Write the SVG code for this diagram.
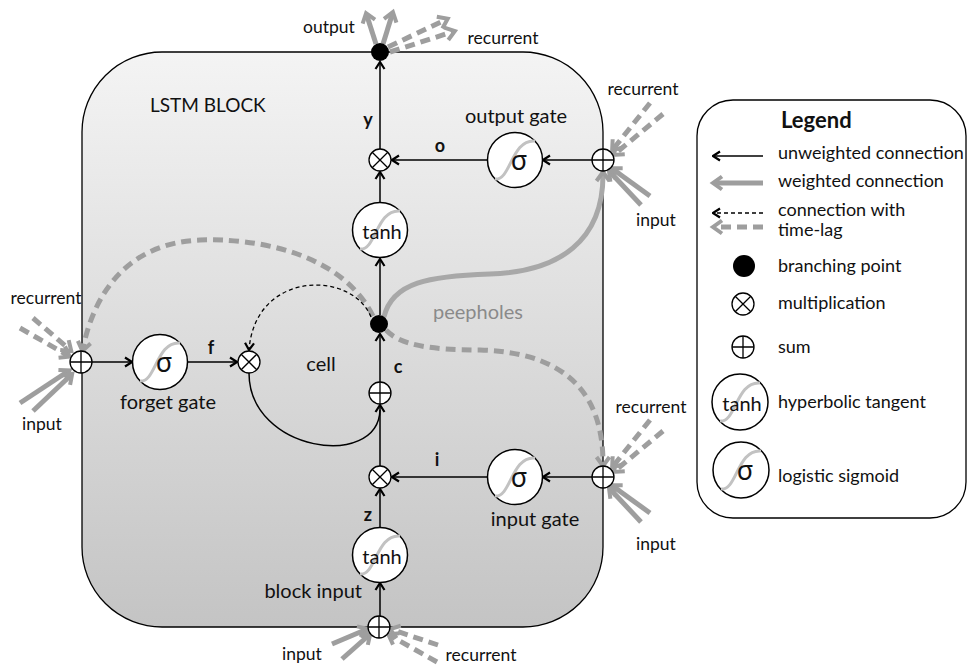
<svg xmlns="http://www.w3.org/2000/svg" xmlns:xlink="http://www.w3.org/1999/xlink" width="970" height="668" viewBox="0 0 970 668">
  <defs>
    <linearGradient id="blockFill" x1="0" y1="0" x2="0" y2="1">
      <stop offset="0" stop-color="#f4f4f4"/>
      <stop offset="1" stop-color="#c4c4c4"/>
    </linearGradient>
    <!-- black open chevron head -->
    <marker id="ah" viewBox="0 0 10 12" refX="9" refY="6" markerWidth="10" markerHeight="12" markerUnits="userSpaceOnUse" orient="auto">
      <path d="M2,1.5 L9,6 L2,10.5" fill="none" stroke="#000" stroke-width="2.2"/>
    </marker>
    <!-- grey open chevron head for weighted links -->
    <marker id="gh" viewBox="0 0 18 18" refX="11" refY="9" markerWidth="18" markerHeight="18" markerUnits="userSpaceOnUse" orient="auto">
      <path d="M5,2.5 L14,9 L5,15.5" fill="none" stroke="#9e9e9e" stroke-width="4"/>
    </marker>
    <g id="mul">
      <circle r="11" class="op"/>
      <path d="M-7.8,-7.8 L7.8,7.8 M-7.8,7.8 L7.8,-7.8" class="mark"/>
    </g>
    <g id="add">
      <circle r="11" class="op"/>
      <path d="M-11,0 H11 M0,-11 V11" class="mark"/>
    </g>
    <path id="squash" d="M-20,19 C-4,21 -4,-21 20,-19" class="curve"/>
  </defs>
  <style>
    text { font-family: Lato, "Liberation Sans", sans-serif; fill: #111; }
    .lbl { font-size: 20px; text-anchor: middle; }
    .ext { font-size: 17.5px; text-anchor: middle; }
    .var { font-size: 18px; font-weight: bold; text-anchor: middle; }
    .leg { font-size: 18px; }
    .node { fill: #fff; stroke: #000; stroke-width: 1.5; }
    .op { fill: #fff; stroke: #000; stroke-width: 1.3; }
    .mark { stroke: #000; stroke-width: 1.3; fill: none; }
    .dot { fill: #000; }
    .curve { fill: none; stroke: #c2c2c2; stroke-width: 3; }
    .tanh { font-size: 20px; text-anchor: middle; }
    .sig { font-family: "Noto Sans", "DejaVu Sans", sans-serif; font-size: 27px; text-anchor: middle; }
    .wire { fill: none; stroke: #000; stroke-width: 1.5; }
    .arrow { marker-end: url(#ah); }
    .lag { fill: none; stroke: #000; stroke-width: 1.3; stroke-dasharray: 4 3; }
    .w { fill: none; stroke: #9e9e9e; stroke-width: 5; marker-end: url(#gh); }
    .wl { fill: none; stroke: #9e9e9e; stroke-width: 5; stroke-dasharray: 10 6; marker-end: url(#gh); }
    .peep { fill: none; stroke: #a8a8a8; stroke-width: 5; }
  </style>

  <!-- LSTM block frame -->
  <g id="block">
    <rect x="82" y="52" width="521" height="575" rx="80" ry="80" fill="url(#blockFill)" stroke="#000" stroke-width="1.3"/>
    <text x="150" y="112" style="font-size:19px">LSTM BLOCK</text>
  </g>

  <!-- legend frame -->
  <g id="legend">
    <rect x="697" y="100" width="269" height="418" rx="36" ry="36" fill="#fff" stroke="#000" stroke-width="1.3"/>
    <text x="781" y="128" style="font-size:22px;font-weight:bold">Legend</text>
    <path d="M763,156 H713" class="wire arrow"/>
    <path d="M763,183 H716" class="w"/>
    <path d="M763,213 H713" class="lag arrow"/>
    <path d="M763,227 H716" class="wl"/>
    <circle cx="744" cy="266" r="11" class="dot"/>
    <use xlink:href="#mul" x="743" y="304"/>
    <use xlink:href="#add" x="743" y="347"/>
    <circle cx="740" cy="402" r="28" class="node"/>
    <use xlink:href="#squash" x="740" y="402"/>
    <text x="742" y="411" class="tanh">tanh</text>
    <circle cx="741" cy="470" r="28" class="node"/>
    <use xlink:href="#squash" x="741" y="470"/>
    <text x="745" y="480" class="sig">σ</text>
    <text x="778" y="159" class="leg">unweighted connection</text>
    <text x="778" y="187" class="leg">weighted connection</text>
    <text x="778" y="216" class="leg">connection with</text>
    <text x="778" y="236" class="leg">time-lag</text>
    <text x="778" y="272" class="leg">branching point</text>
    <text x="778" y="309" class="leg">multiplication</text>
    <text x="778" y="353" class="leg">sum</text>
    <text x="778" y="408" class="leg">hyperbolic tangent</text>
    <text x="778" y="482" class="leg">logistic sigmoid</text>
  </g>

  <!-- connectors -->
  <g id="connectors">
    <!-- peephole links -->
    <path d="M384,317 C392,282 430,276 490,274 C560,272 603,240 603,175" class="peep" marker-end="url(#gh)"/>
    <path d="M373,316 C340,250 250,238 200,240 C130,243 95,290 83,348" class="wl"/>
    <path d="M386,330 C400,345 430,350 480,350 C550,352 603,380 603,463" class="wl"/>

    <!-- main vertical data path -->
    <path d="M380,616 V583" class="wire arrow"/>
    <path d="M380,527 V489" class="wire arrow"/>
    <path d="M380,466 V405" class="wire arrow"/>
    <path d="M380,382 V334" class="wire arrow"/>
    <path d="M380,315 V259" class="wire arrow"/>
    <path d="M380,202 V172" class="wire arrow"/>
    <path d="M380,149 V62" class="wire arrow"/>

    <!-- gates -->
    <path d="M592,160 H543" class="wire arrow"/>
    <path d="M487,160 H392" class="wire arrow"/>
    <path d="M592,477 H543" class="wire arrow"/>
    <path d="M487,477 H392" class="wire arrow"/>
    <path d="M92,362 H132" class="wire arrow"/>
    <path d="M188,362 H237" class="wire arrow"/>

    <!-- cell state loop -->
    <path d="M249,373 C249,452 378,470 380,410" class="wire"/>
    <path d="M371,317 C352,270 255,270 249,350" class="lag arrow"/>

    <!-- block outputs -->
    <path d="M376,44 L367,16" class="w"/>
    <path d="M383,44 L392,15" class="w"/>
    <path d="M388,47 L445,20" class="wl"/>
    <path d="M390,52 L452,32" class="wl"/>

    <!-- output gate inputs -->
    <path d="M650,103 L614,148" class="wl"/>
    <path d="M663,114 L616,153" class="wl"/>
    <path d="M650,196 L614,170" class="w"/>
    <path d="M641,205 L611,173" class="w"/>

    <!-- input gate inputs -->
    <path d="M650,420 L614,465" class="wl"/>
    <path d="M663,431 L616,470" class="wl"/>
    <path d="M650,513 L614,487" class="w"/>
    <path d="M641,522 L611,490" class="w"/>

    <!-- forget gate inputs -->
    <path d="M20,328 L67,355" class="wl"/>
    <path d="M33,318 L69,349" class="wl"/>
    <path d="M20,403 L67,372" class="w"/>
    <path d="M33,411 L70,376" class="w"/>

    <!-- block input inputs -->
    <path d="M332,644 L365,630" class="w"/>
    <path d="M342,659 L368,636" class="w"/>
    <path d="M438,645 L393,630" class="wl"/>
    <path d="M437,662 L391,636" class="wl"/>
  </g>

  <!-- nodes -->
  <g id="out-branch"><circle cx="380" cy="52" r="9" class="dot"/></g>
  <g id="out-mul"><use xlink:href="#mul" x="380" y="160"/></g>
  <g id="out-tanh">
    <circle cx="380" cy="230" r="27.5" class="node"/>
    <use xlink:href="#squash" x="380" y="230"/>
    <text x="382" y="239" class="tanh">tanh</text>
  </g>
  <g id="out-gate">
    <circle cx="515" cy="160" r="27.5" class="node"/>
    <use xlink:href="#squash" x="515" y="160"/>
    <text x="519" y="170" class="sig">σ</text>
  </g>
  <g id="out-sum"><use xlink:href="#add" x="603" y="160"/></g>
  <g id="cell-branch"><circle cx="379" cy="324" r="9" class="dot"/></g>
  <g id="cell-sum"><use xlink:href="#add" x="380" y="393"/></g>
  <g id="forget-sum"><use xlink:href="#add" x="81" y="362"/></g>
  <g id="forget-gate">
    <circle cx="160" cy="362" r="27.5" class="node"/>
    <use xlink:href="#squash" x="160" y="362"/>
    <text x="164" y="372" class="sig">σ</text>
  </g>
  <g id="forget-mul"><use xlink:href="#mul" x="249" y="362"/></g>
  <g id="in-mul"><use xlink:href="#mul" x="380" y="477"/></g>
  <g id="in-gate">
    <circle cx="515" cy="477" r="27.5" class="node"/>
    <use xlink:href="#squash" x="515" y="477"/>
    <text x="519" y="487" class="sig">σ</text>
  </g>
  <g id="in-sum"><use xlink:href="#add" x="603" y="477"/></g>
  <g id="block-input">
    <circle cx="380" cy="555" r="27.5" class="node"/>
    <use xlink:href="#squash" x="380" y="555"/>
    <text x="382" y="564" class="tanh">tanh</text>
  </g>
  <g id="block-sum"><use xlink:href="#add" x="379" y="627"/></g>

  <!-- labels -->
  <g id="labels">
    <text x="329" y="33" class="ext">output</text>
    <text x="503" y="44" class="ext">recurrent</text>
    <text x="368" y="126" class="var">y</text>
    <text x="440" y="152" class="var">o</text>
    <text x="516" y="123" class="lbl">output gate</text>
    <text x="643" y="95" class="ext">recurrent</text>
    <text x="656" y="226" class="ext">input</text>
    <text x="433" y="319" style="font-size:20px;fill:#8a8a8a">peepholes</text>
    <text x="321" y="371" class="lbl">cell</text>
    <text x="398" y="373" class="var">c</text>
    <text x="211" y="354" class="var">f</text>
    <text x="168" y="409" class="lbl">forget gate</text>
    <text x="46" y="304" class="ext">recurrent</text>
    <text x="42" y="430" class="ext">input</text>
    <text x="651" y="413" class="ext">recurrent</text>
    <text x="437" y="466" class="var">i</text>
    <text x="535" y="526" class="lbl">input gate</text>
    <text x="656" y="550" class="ext">input</text>
    <text x="368" y="521" class="var">z</text>
    <text x="362" y="598" class="lbl" style="text-anchor:end">block input</text>
    <text x="302" y="660" class="ext">input</text>
    <text x="481" y="661" class="ext">recurrent</text>
  </g>
</svg>
